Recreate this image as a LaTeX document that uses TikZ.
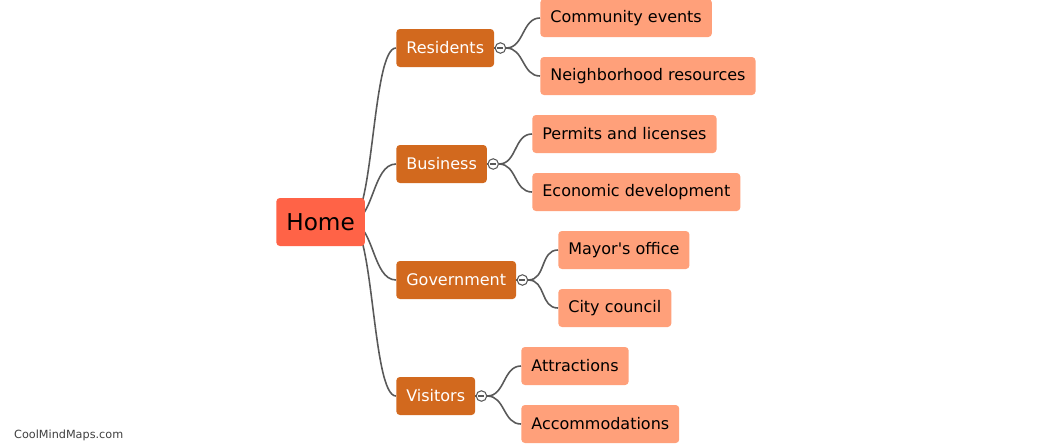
\documentclass[tikz,border=0pt]{standalone}
\usepackage{fontspec}
\setmainfont{DejaVu Sans}[Ligatures=TeXOff]
\usepackage{xcolor}
\usetikzlibrary{positioning,backgrounds}
\definecolor{homered}{HTML}{FF6347}
\definecolor{branchorange}{HTML}{D2691E}
\definecolor{leafsalmon}{HTML}{FFA07A}
\definecolor{linegray}{HTML}{595959}

\begin{document}
\begin{tikzpicture}[
  x=0.02cm, y=-0.02cm,
  root/.style={rectangle, rounded corners=2pt, fill=homered, anchor=west,
    minimum height=0.96cm, inner xsep=0.2cm, font=\fontsize{13.2}{15}\selectfont},
  branch/.style={rectangle, rounded corners=2pt, fill=branchorange, text=white,
    anchor=west, minimum height=0.76cm, inner xsep=0.2cm,
    font=\fontsize{9.1}{11}\selectfont},
  leaf/.style={rectangle, rounded corners=2pt, fill=leafsalmon, text=black,
    anchor=west, minimum height=0.76cm, inner xsep=0.2cm,
    font=\fontsize{9.1}{11}\selectfont},
  fold/.style={circle, draw=linegray, fill=white, line width=0.6pt,
    minimum size=0.21cm, inner sep=0pt,
    path picture={\draw[linegray, line width=0.8pt]
      ([xshift=-0.06cm]path picture bounding box.center) --
      ([xshift=0.06cm]path picture bounding box.center);}},
  link/.style={draw=linegray, line width=0.9pt}
]
  \useasboundingbox (0,0) rectangle (1045,444);

  % root
  \node[root] (home) at (276,222) {Home};
  \coordinate (hub) at (350,222);

  % branches
  \node[branch] (residents) at (396,48) {Residents};
  \node[branch] (business) at (396,164) {Business};
  \node[branch] (government) at (396,280) {Government};
  \node[branch] (visitors) at (396,396) {Visitors};

  % leaves
  \node[leaf] (events) at (540,18) {Community events};
  \node[leaf] (resources) at (540,76) {Neighborhood resources};
  \node[leaf] (permits) at (532,134) {Permits and licenses};
  \node[leaf] (economy) at (532,192) {Economic development};
  \node[leaf] (mayor) at (558,250) {Mayor's office};
  \node[leaf] (council) at (558,308) {City council};
  \node[leaf] (attractions) at (521,366) {Attractions};
  \node[leaf] (lodging) at (521,424) {Accommodations};

  \node[anchor=west, text=darkgray, font=\fontsize{6.4}{8}\selectfont]
    (brand) at (8,435) {CoolMindMaps.com};

  % connectors
  \begin{scope}[on background layer]
    \foreach \b in {residents,business,government,visitors}
      \draw[link] (hub) .. controls +(24,0) and +(-24,0) .. (\b.west);
  \end{scope}

  \node[fold] (resfold) at ([xshift=0.12cm]residents.east) {};
  \node[fold] (busfold) at ([xshift=0.12cm]business.east) {};
  \node[fold] (govfold) at ([xshift=0.12cm]government.east) {};
  \node[fold] (visfold) at ([xshift=0.12cm]visitors.east) {};

  \draw[link] (residents.east) -- (resfold.west);
  \draw[link] (business.east) -- (busfold.west);
  \draw[link] (government.east) -- (govfold.west);
  \draw[link] (visitors.east) -- (visfold.west);

  \draw[link] (resfold.east) .. controls +(18,0) and +(-18,0) .. (events.west);
  \draw[link] (resfold.east) .. controls +(18,0) and +(-18,0) .. (resources.west);
  \draw[link] (busfold.east) .. controls +(18,0) and +(-18,0) .. (permits.west);
  \draw[link] (busfold.east) .. controls +(18,0) and +(-18,0) .. (economy.west);
  \draw[link] (govfold.east) .. controls +(18,0) and +(-18,0) .. (mayor.west);
  \draw[link] (govfold.east) .. controls +(18,0) and +(-18,0) .. (council.west);
  \draw[link] (visfold.east) .. controls +(18,0) and +(-18,0) .. (attractions.west);
  \draw[link] (visfold.east) .. controls +(18,0) and +(-18,0) .. (lodging.west);
\end{tikzpicture}
\end{document}
